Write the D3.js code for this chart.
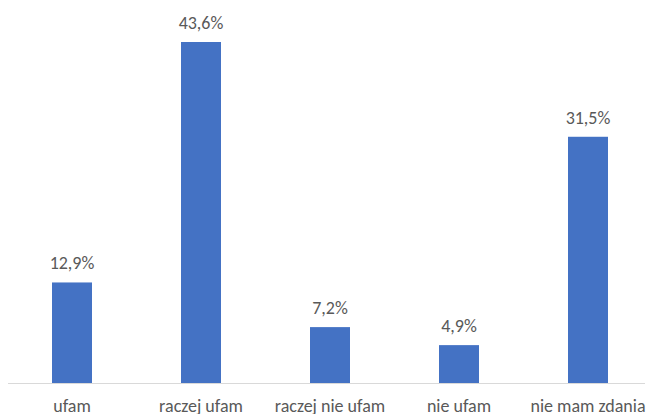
<!DOCTYPE html>
<html>
<head>
<meta charset="utf-8">
<script src="https://cdn.jsdelivr.net/npm/d3@7"></script>
<style>
  body { margin: 0; background: #fff; }
</style>
</head>
<body>
<div id="chart"></div>
<script>
"use strict";

var categories = ["ufam", "raczej ufam", "raczej nie ufam", "nie ufam", "nie mam zdania"],
    values = [12.9, 43.6, 7.2, 4.9, 31.5],
    valueLabels = ["12,9%", "43,6%", "7,2%", "4,9%", "31,5%"];

var w = 647,
    h = 414,
    baseY = 383.5,
    font = "Carlito, Calibri, Lato, sans-serif";

var svg = d3.select("#chart")
            .append("svg")
            .attr("width", w)
            .attr("height", h);

var x = d3.scaleBand()
    .domain(categories)
    .range([7.5, 652.5])
    .paddingInner(0.69)
    .paddingOuter(0.345);

var y = d3.scaleLinear()
    .domain([0, 43.6])
    .range([baseY, 42]);

// bars
svg.selectAll("rect")
    .data(values)
    .enter()
    .append("rect")
      .attr("x", function (d, i) { return x(categories[i]); })
      .attr("y", function (d) { return y(d); })
      .attr("width", x.bandwidth())
      .attr("height", function (d) { return baseY - y(d); })
      .attr("fill", "#4472c4");

// axis line
svg.append("line")
    .attr("x1", 8).attr("x2", 645)
    .attr("y1", baseY).attr("y2", baseY)
    .attr("stroke", "#d9d9d9")
    .attr("stroke-width", 1);

// value labels
svg.selectAll("text.val")
    .data(values)
    .enter()
    .append("text")
    .attr("class", "val")
    .text(function (d, i) { return valueLabels[i]; })
    .attr("text-anchor", "middle")
    .attr("x", function (d, i) { return x(categories[i]) + x.bandwidth() / 2; })
    .attr("y", function (d) { return y(d) - 13; })
    .attr("font-family", font)
    .attr("font-size", 18)
    .attr("fill", "#595959");

// category labels
svg.selectAll("text.cat")
    .data(categories)
    .enter()
    .append("text")
    .attr("class", "cat")
    .text(function (d) { return d; })
    .attr("text-anchor", "middle")
    .attr("x", function (d) { return x(d) + x.bandwidth() / 2; })
    .attr("y", 412)
    .attr("font-family", font)
    .attr("font-size", 18)
    .attr("fill", "#595959");
</script>
</body>
</html>
